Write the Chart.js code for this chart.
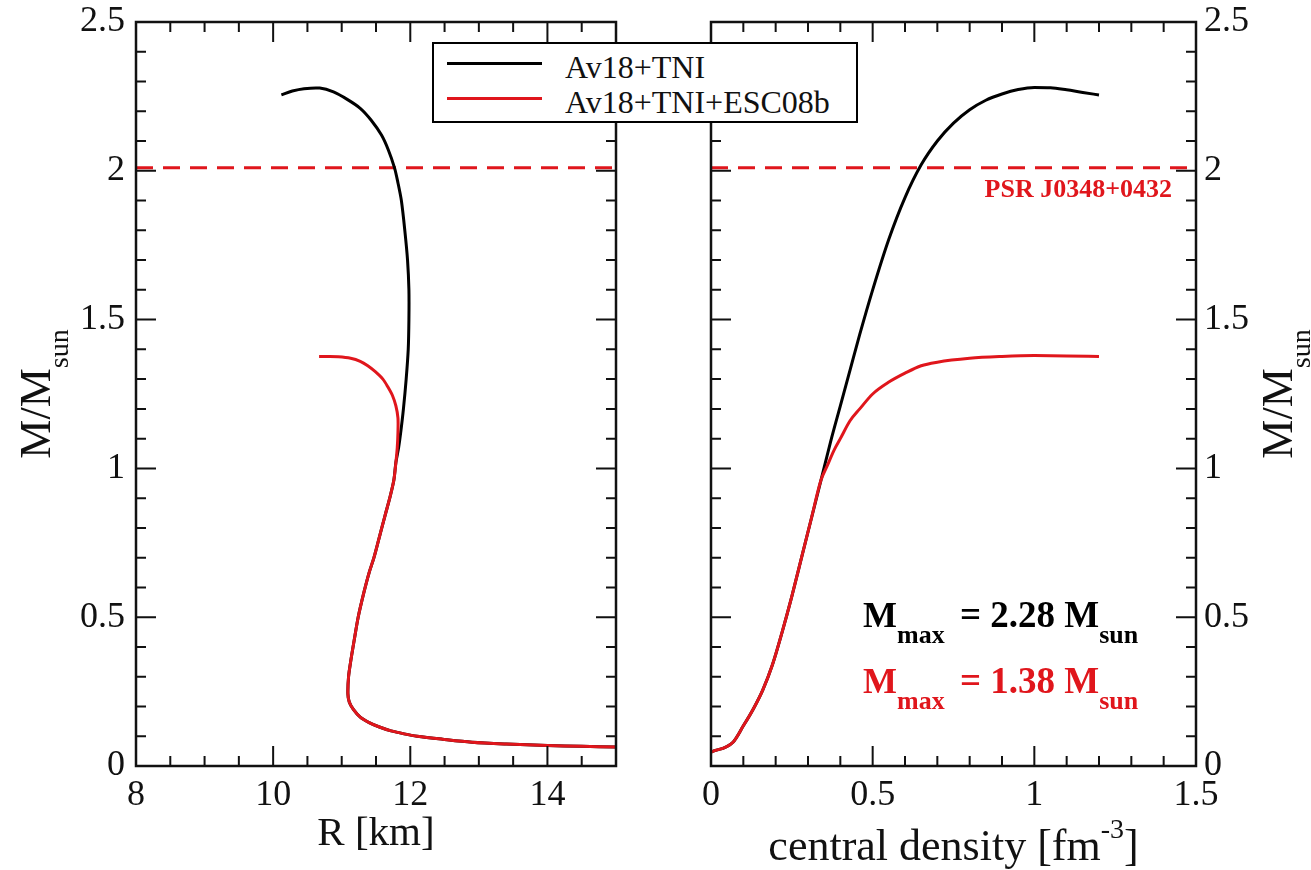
<!DOCTYPE html>
<html>
<head>
<meta charset="utf-8">
<script src="https://cdn.jsdelivr.net/npm/chart.js@4.4.1/dist/chart.umd.min.js"></script>
<style>
  body { margin:0; background:#fff; width:1311px; height:870px; overflow:hidden; position:relative; font-family:"Liberation Serif", serif; }
  canvas { position:absolute; top:0; }
  #left { left:0; }
  #right { left:660px; }
  #legend { position:absolute; left:432px; top:42px; width:426px; height:81px; border:2px solid #000; background:#fff; box-sizing:border-box; }
  #legend .row { position:absolute; left:0; height:32px; line-height:32px; font-size:32px; color:#111; white-space:nowrap; }
  #legend .sample { position:absolute; left:13px; top:12px; width:95px; height:3px; }
  #legend .txt { position:absolute; left:131px; top:1px; }
</style>
</head>
<body>
<canvas id="left" width="660" height="870"></canvas>
<canvas id="right" width="651" height="870"></canvas>
<div id="legend"></div>
<script>
'use strict';
const FONT = '"Liberation Serif", "Times New Roman", serif';

const seriesNames = ['Av18+TNI', 'Av18+TNI+ESC08b'];
const seriesColors = ['#000000', '#e0161c'];

// left panel: M(R), ordered from low to high central density
const rBlack = [15.0, 14.5, 14.0, 13.4, 12.9, 12.47, 12.1, 11.91, 11.72, 11.55, 11.4, 11.27, 11.17, 11.11, 11.09, 11.1, 11.13, 11.18, 11.24, 11.32, 11.4, 11.47, 11.55, 11.63, 11.7, 11.76, 11.79,
  11.83, 11.86, 11.9, 11.94, 11.97, 11.98, 11.98, 11.96, 11.92, 11.87, 11.82, 11.77, 11.68, 11.58, 11.43, 11.27, 11.08, 10.88, 10.68, 10.45, 10.28, 10.12];
const mBlackR = [0.064, 0.066, 0.069, 0.074, 0.08, 0.09, 0.1, 0.108, 0.118, 0.131, 0.146, 0.164, 0.19, 0.215, 0.243, 0.3, 0.35, 0.42, 0.5, 0.58, 0.65, 0.7, 0.77, 0.84, 0.9, 0.96, 1.02,
  1.07, 1.12, 1.2, 1.3, 1.4, 1.5, 1.6, 1.7, 1.8, 1.9, 1.96, 2.01, 2.07, 2.12, 2.17, 2.21, 2.24, 2.265, 2.278, 2.276, 2.268, 2.255];
const rRed = [15.0, 14.5, 14.0, 13.4, 12.9, 12.47, 12.1, 11.91, 11.72, 11.55, 11.4, 11.27, 11.17, 11.11, 11.09, 11.1, 11.13, 11.18, 11.24, 11.32, 11.4, 11.47, 11.55, 11.63, 11.7, 11.76, 11.79,
  11.81, 11.82, 11.82, 11.79, 11.74, 11.67, 11.6, 11.49, 11.38, 11.27, 11.13, 10.95, 10.8, 10.67];
const mRedR = [0.064, 0.066, 0.069, 0.074, 0.08, 0.09, 0.1, 0.108, 0.118, 0.131, 0.146, 0.164, 0.19, 0.215, 0.243, 0.3, 0.35, 0.42, 0.5, 0.58, 0.65, 0.7, 0.77, 0.84, 0.9, 0.96, 1.02,
  1.07, 1.12, 1.17, 1.21, 1.245, 1.275, 1.3, 1.325, 1.345, 1.36, 1.37, 1.375, 1.376, 1.376];

// right panel: M vs central density
const rhoBlack = [0, 0.068, 0.1, 0.13, 0.16, 0.19, 0.22, 0.25, 0.28, 0.31, 0.34, 0.37, 0.4, 0.43, 0.46, 0.5, 0.55, 0.6, 0.65, 0.7, 0.75, 0.8, 0.85, 0.9, 0.95, 1.0, 1.05, 1.1, 1.15, 1.2];
const mBlackRho = [0.047, 0.08, 0.135, 0.19, 0.255, 0.34, 0.45, 0.57, 0.7, 0.83, 0.96, 1.09, 1.21, 1.33, 1.45, 1.6, 1.77, 1.91, 2.02, 2.1, 2.16, 2.205, 2.237, 2.258, 2.273, 2.28, 2.279, 2.272, 2.263, 2.255];
const rhoRed = [0, 0.068, 0.1, 0.13, 0.16, 0.19, 0.22, 0.25, 0.28, 0.31, 0.34, 0.36, 0.38, 0.4, 0.43, 0.46, 0.5, 0.55, 0.6, 0.65, 0.7, 0.8, 0.9, 1.0, 1.1, 1.2];
const mRedRho = [0.047, 0.08, 0.135, 0.19, 0.255, 0.34, 0.45, 0.57, 0.7, 0.83, 0.96, 1.01, 1.06, 1.1, 1.16, 1.2, 1.25, 1.29, 1.32, 1.345, 1.357, 1.37, 1.376, 1.379, 1.378, 1.376];

const psrMass = 2.01;
const psrName = 'PSR J0348+0432';
const mMaxText = ['2.28', '1.38'];

const leftXTicks = [8, 10, 12, 14];
const rightXTicks = [0, 0.5, 1, 1.5];
const yTicks = [0, 0.5, 1, 1.5, 2, 2.5];

const pts = (xs, ys) => xs.map((x, i) => ({ x, y: ys[i] }));

// legend shared by both panels
document.getElementById('legend').innerHTML = seriesNames.map((n, i) =>
  `<div class="row" style="top:${6 + i * 35}px"><div class="sample" style="background:${seriesColors[i]}"></div><span class="txt">${n}</span></div>`).join('');

function drawRich(ctx, parts, x, y, align) {
  let w = 0;
  parts.forEach(p => { ctx.font = p[1]; w += ctx.measureText(p[0]).width + (p[3] || 0); });
  let cx = align === 'center' ? x - w / 2 : align === 'right' ? x - w : x;
  parts.forEach(p => { ctx.font = p[1]; ctx.fillText(p[0], cx, y + (p[2] || 0)); cx += ctx.measureText(p[0]).width + (p[3] || 0); });
}

function framePlugin(xMinor, yMinor) {
  return {
    id: 'frame',
    afterDatasetsDraw(chart) {
      const { ctx, chartArea: a, scales: { x, y } } = chart;
      ctx.save();
      ctx.strokeStyle = '#111';
      ctx.lineWidth = 2;
      const marks = (scale, step, major) => {
        const out = [];
        const n = Math.round((scale.max - scale.min) / step);
        for (let i = 0; i <= n; i++) {
          const v = scale.min + i * step;
          const isMajor = scale.ticks.some(t => Math.abs(t.value - v) < 1e-6);
          if (isMajor === major) out.push(scale.getPixelForValue(v));
        }
        return out;
      };
      const ticks = (len, major) => {
        marks(x, xMinor, major).forEach(px => {
          ctx.beginPath();
          ctx.moveTo(px, a.bottom); ctx.lineTo(px, a.bottom - len);
          ctx.moveTo(px, a.top); ctx.lineTo(px, a.top + len);
          ctx.stroke();
        });
        marks(y, yMinor, major).forEach(py => {
          ctx.beginPath();
          ctx.moveTo(a.left, py); ctx.lineTo(a.left + len, py);
          ctx.moveTo(a.right, py); ctx.lineTo(a.right - len, py);
          ctx.stroke();
        });
      };
      ticks(10, false);
      ticks(20, true);
      ctx.lineWidth = 2.5;
      ctx.strokeRect(a.left, a.top, a.right - a.left, a.bottom - a.top);
      ctx.restore();
    }
  };
}

function yTitle(ctx, cx, cy) {
  ctx.save();
  ctx.translate(cx, cy);
  ctx.rotate(-Math.PI / 2);
  ctx.fillStyle = '#111';
  drawRich(ctx, [['M/M', '44px ' + FONT], ['sun', '28px ' + FONT, 18]], 0, 0, 'center');
  ctx.restore();
}

const lineDs = (label, data, color, order, mode) => ({
  label, data, borderColor: color, borderWidth: 3, pointRadius: 0, showLine: true, fill: false, order,
  tension: 0.3, cubicInterpolationMode: mode || 'default'
});
const psrDs = (x0, x1) => ({
  label: psrName, data: [{ x: x0, y: psrMass }, { x: x1, y: psrMass }], borderColor: seriesColors[1],
  borderWidth: 3, borderDash: [17, 10], pointRadius: 0, showLine: true, order: 2
});

// fixed box size and no label overhang, so the plot frame lands where the layout padding says
const fixBox = (w, h) => s => {
  if (w) s.width = w;
  if (h) s.height = h;
  s.paddingTop = s.paddingBottom = s.paddingLeft = s.paddingRight = 0;
};

const tickFont = { family: FONT, size: 36 };
function axis(min, max, values, extra, pad) {
  return Object.assign({
    type: 'linear', min, max,
    afterBuildTicks: s => { s.ticks = values.map(v => ({ value: v })); },
    grid: { display: false, drawTicks: false },
    border: { display: false },
    ticks: { font: tickFont, color: '#111', autoSkip: false, maxRotation: 0, padding: pad, callback: v => String(v) }
  }, extra);
}

const baseOptions = {
  responsive: false, animation: false, events: [],
  plugins: { legend: { display: false }, tooltip: { enabled: false } }
};

new Chart(document.getElementById('left'), {
  type: 'scatter',
  data: {
    datasets: [
      lineDs(seriesNames[1], pts(rRed, mRedR), seriesColors[1], 0),
      lineDs(seriesNames[0], pts(rBlack, mBlackR), seriesColors[0], 1),
      psrDs(8, 15)
    ]
  },
  options: Object.assign({}, baseOptions, {
    layout: { padding: { top: 22, right: 44, left: 0, bottom: 0 } },
    scales: {
      x: axis(8, 15, leftXTicks, { afterFit: fixBox(0, 104) }, 8),
      y: axis(0, 2.5, yTicks, { position: 'left', afterFit: fixBox(136, 0) }, 11)
    }
  }),
  plugins: [framePlugin(0.5, 0.1), {
    id: 'leftNotes',
    afterDraw(chart) {
      const { ctx, chartArea: a } = chart;
      ctx.save();
      ctx.fillStyle = '#111';
      ctx.textBaseline = 'alphabetic';
      drawRich(ctx, [['R [km]', '41px ' + FONT]], (a.left + a.right) / 2, 845, 'center');
      yTitle(ctx, 50, (a.top + a.bottom) / 2);
      ctx.restore();
    }
  }]
});

new Chart(document.getElementById('right'), {
  type: 'scatter',
  data: {
    datasets: [
      lineDs(seriesNames[1], pts(rhoRed, mRedRho), seriesColors[1], 0, 'monotone'),
      lineDs(seriesNames[0], pts(rhoBlack, mBlackRho), seriesColors[0], 1, 'monotone'),
      psrDs(0, 1.5)
    ]
  },
  options: Object.assign({}, baseOptions, {
    layout: { padding: { top: 22, right: 0, left: 51, bottom: 0 } },
    scales: {
      x: axis(0, 1.5, rightXTicks, { afterFit: fixBox(0, 104) }, 8),
      y: axis(0, 2.5, yTicks, { position: 'right', afterFit: fixBox(115, 0) }, 8)
    }
  }),
  plugins: [framePlugin(0.1, 0.1), {
    id: 'rightNotes',
    afterDraw(chart) {
      const { ctx, chartArea: a, scales: { y } } = chart;
      ctx.save();
      ctx.textBaseline = 'alphabetic';
      ctx.fillStyle = '#111';
      drawRich(ctx, [['central density [fm', '44px ' + FONT], ['-3', '28px ' + FONT, -22], [']', '44px ' + FONT]],
        (a.left + a.right) / 2, 860, 'center');
      yTitle(ctx, 632, (a.top + a.bottom) / 2);
      ctx.fillStyle = seriesColors[1];
      drawRich(ctx, [[psrName, 'bold 26px ' + FONT]], a.right - 24, y.getPixelForValue(psrMass) + 29, 'right');
      mMaxText.forEach((t, i) => {
        ctx.fillStyle = seriesColors[i];
        drawRich(ctx, [['M', 'bold 36px ' + FONT], ['max', 'bold 26px ' + FONT, 16, 6], [' = ' + t + ' M', 'bold 37px ' + FONT], ['sun', 'bold 26px ' + FONT, 16]],
          203, 627 + i * 66, 'left');
      });
      ctx.restore();
    }
  }]
});
</script>
</body>
</html>
